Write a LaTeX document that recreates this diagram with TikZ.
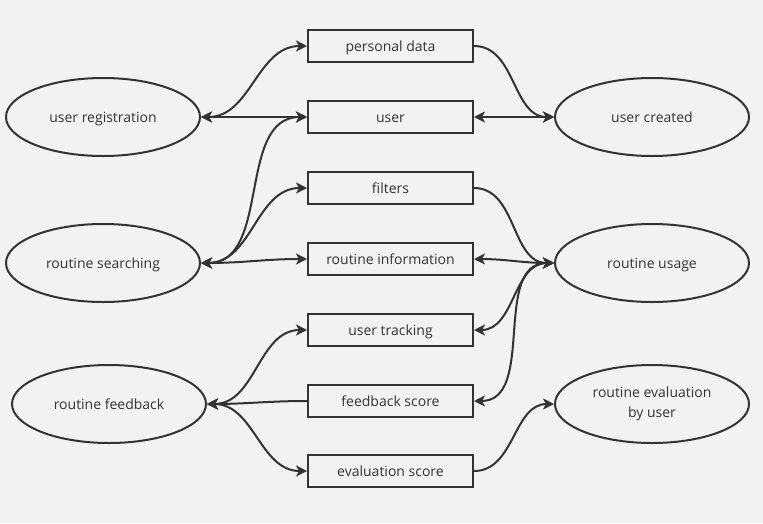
\documentclass[tikz,border=0pt]{standalone}
\usepackage{fontspec}
\setmainfont{Open Sans}
\usetikzlibrary{shapes.geometric,arrows.meta}
\definecolor{bg}{HTML}{F2F2F2}
\definecolor{ink}{HTML}{333333}
\begin{document}
\begin{tikzpicture}[x=1pt,y=-1pt,
  every node/.style={font=\fontsize{14}{20}\selectfont, text=ink},
  oval/.style={draw=ink, line width=2pt, ellipse, minimum width=194pt, minimum height=78pt, align=center, inner sep=0pt, text height=12pt, text depth=0.5pt},
  box/.style={draw=ink, line width=2pt, rectangle, minimum width=165pt, minimum height=32pt, inner sep=0pt, text height=12pt, text depth=0.5pt},
  conn/.style={draw=ink, line width=2pt, out=0, in=180},
  tip/.tip={Stealth[length=11pt,width=11pt,inset=3pt]}
]
\fill[bg] (0,0) rectangle (763,523);
\useasboundingbox (0,0) rectangle (763,523);
% ellipses
\node[oval] (reg) at (103,117) {user registration};
\node[oval] (created) at (652,117) {user created};
\node[oval] (search) at (103,263) {routine searching};
\node[oval] (usage) at (652,263) {routine usage};
\node[oval] (fb) at (109,404) {routine feedback};
\node[oval, text height=, text depth=] (eval) at (652,404) {\raisebox{-9pt}{\shortstack{routine evaluation\\[6pt]by user}}};
% boxes
\node[box] (pd) at (390.5,46) {personal data};
\node[box] (user) at (390.5,117) {user};
\node[box] (filt) at (390.5,188) {filters};
\node[box] (rinfo) at (390.5,259) {routine information};
\node[box] (track) at (390.5,330) {user tracking};
\node[box] (fscore) at (390.5,401) {feedback score};
\node[box] (escore) at (390.5,471) {evaluation score};
% connectors
\draw[conn, tip-tip] (reg.east) to (pd.west);
\draw[conn, tip-tip] (reg.east) to (user.west);
\draw[conn, -tip] (pd.east) to (created.west);
\draw[conn, tip-tip] (user.east) to (created.west);
\draw[conn, tip-tip] (search.east) to (user.west);
\draw[conn, tip-tip] (search.east) to (filt.west);
\draw[conn, tip-tip] (search.east) to (rinfo.west);
\draw[conn, -tip] (filt.east) to (usage.west);
\draw[conn, tip-tip, in=0, out=180] (usage.west) to (rinfo.east);
\draw[conn, tip-tip, in=0, out=180] (usage.west) to (track.east);
\draw[conn, tip-tip, in=0, out=180] (usage.west) to (fscore.east);
\draw[conn, -tip, in=0, out=180] (fscore.west) to (fb.east);
\draw[conn, tip-tip] (fb.east) to (track.west);
\draw[conn, tip-tip] (fb.east) to (escore.west);
\draw[conn, -tip] (escore.east) to (eval.west);
\end{tikzpicture}
\end{document}
